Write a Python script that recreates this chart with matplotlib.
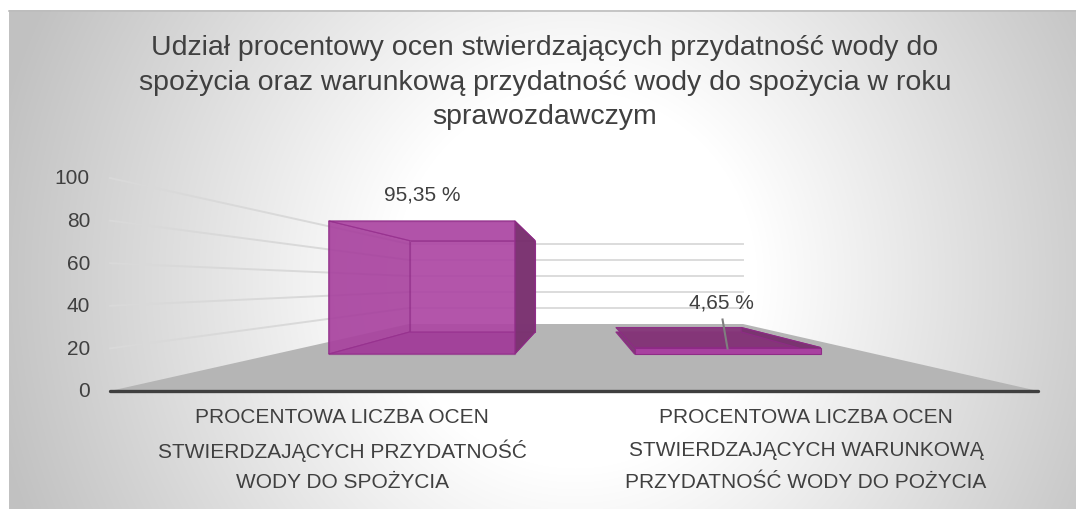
import numpy as np
import matplotlib
matplotlib.use("Agg")
import matplotlib.pyplot as plt
from matplotlib.patches import Polygon

# ---------------- data ----------------
title_lines = [
    "Udział procentowy ocen stwierdzających przydatność wody do",
    "spożycia oraz warunkową przydatność wody do spożycia w roku",
    "sprawozdawczym",
]
categories = [
    ["PROCENTOWA LICZBA OCEN", "STWIERDZAJĄCYCH PRZYDATNOŚĆ", "WODY DO SPOŻYCIA"],
    ["PROCENTOWA LICZBA OCEN", "STWIERDZAJĄCYCH WARUNKOWĄ", "PRZYDATNOŚĆ WODY DO POŻYCIA"],
]
values = [95.35, 4.65]
value_labels = ["95,35 %", "4,65 %"]
y_ticks = [0, 20, 40, 60, 80, 100]

# ---------------- layout (pixel space pseudo-3D projection) ----------------
W, H = 1076, 510
plt.rcParams['font.family'] = ['Liberation Sans', 'DejaVu Sans']
TXT = '#404040'

fig = plt.figure(figsize=(W / 100, H / 100), dpi=100)
fig.patch.set_facecolor('white')
ax = fig.add_axes([0, 0, 1, 1])
ax.set_xlim(0, W)
ax.set_ylim(H, 0)
ax.axis('off')

# chart area background (radial gradient)
cx0, cy0 = 9, 11
xx, yy = np.meshgrid(np.arange(cx0, W), np.arange(cy0, H))
d = np.sqrt(((xx - 575) / 520.0) ** 2 + ((yy - 280) / 540.0) ** 2)
g = 255 - 62 * np.clip((d - 0.35) / 0.8, 0, 1)
img = np.dstack([g, g, g]).astype(np.uint8)
ax.imshow(img, extent=(cx0, W, H, cy0), zorder=0, interpolation='bilinear', aspect='auto')
ax.plot([cx0, W], [cy0 + 0.5, cy0 + 0.5], color='#bdbdbd', lw=1.2, zorder=1)

# projection: f = horizontal fraction across plot, v = value, t = depth (0 front, 1 back)
FRONT = dict(left=110, right=1038, y0=392, scale=42.6 / 20)
BACK = dict(left=409, right=743, y0=325, scale=16.0 / 20)


def proj(f, v, t):
    left = FRONT['left'] + (BACK['left'] - FRONT['left']) * t
    right = FRONT['right'] + (BACK['right'] - FRONT['right']) * t
    y0 = FRONT['y0'] + (BACK['y0'] - FRONT['y0']) * t
    sc = FRONT['scale'] + (BACK['scale'] - FRONT['scale']) * t
    return (left + f * (right - left), y0 - v * sc)


# floor
floor = [proj(0, 0, 0), proj(0, 0, 1), proj(1, 0, 1), proj(1, 0, 0)]
ax.add_patch(Polygon(floor, closed=True, facecolor='#b5b5b5', edgecolor='none', zorder=2))

# gridlines (side wall + back wall)
for v in y_ticks[1:]:
    p0, p1, p2 = proj(0, v, 0), proj(0, v, 1), proj(1, v, 1)
    ax.plot([p0[0], p1[0]], [p0[1], p1[1]], color='#d9d9d9', lw=1.4, zorder=2)
    ax.plot([p1[0], p2[0]], [p1[1], p2[1]], color='#dcdcdc', lw=1.4, zorder=2)

# axis line
a0, a1 = proj(0, 0, 0), proj(1, 0, 0)
ax.plot([a0[0], a1[0]], [a0[1], a1[1]], color='#3f3f3f', lw=2.4, solid_capstyle='round', zorder=6)

# tick labels
for v in y_ticks:
    p = proj(0, v, 0)
    ax.text(90, p[1], str(v), ha='right', va='center', fontsize=15, color=TXT, zorder=7)

# bars
centers = [0.2445, 0.754]
half = 0.155
t_front, t_back = 0.552, 0.881
edge = '#8e2a86'


def quad(pts, fc, alpha, z, ec=edge, lw=0.8):
    ax.add_patch(Polygon(pts, closed=True, facecolor=fc, edgecolor=ec, lw=lw,
                         alpha=alpha, zorder=z, joinstyle='miter'))


for i, (c, v) in enumerate(zip(centers, values)):
    f0, f1 = c - half, c + half
    FLb, FRb = proj(f0, 0, t_front), proj(f1, 0, t_front)
    FLt, FRt = proj(f0, v, t_front), proj(f1, v, t_front)
    BLb, BRb = proj(f0, 0, t_back), proj(f1, 0, t_back)
    BLt, BRt = proj(f0, v, t_back), proj(f1, v, t_back)
    if v > 20:
        quad([BLb, BRb, BRt, BLt], '#b04ba7', 0.88, 3)          # back
        quad([FLb, BLb, BLt, FLt], '#a9459f', 0.88, 3)          # left (inner)
        quad([FLb, FRb, BRb, BLb], '#9e3b96', 0.92, 3)          # bottom
        quad([FLt, FRt, BRt, BLt], '#ad48a4', 0.88, 3)          # top (inner)
        quad([FRb, BRb, BRt, FRt], '#7a3470', 0.95, 4)          # right side
        quad([FLb, FRb, FRt, FLt], '#a8409f', 0.35, 5, lw=1.0)  # front
    else:
        quad([FLb, BLb, BRb, FRb], '#7f3274', 0.95, 3)
        quad([FLt, BLt, BRt, FRt], '#853679', 0.95, 4)          # top
        quad([FRb, BRb, BRt, FRt], '#7a3470', 0.95, 4)          # right side
        quad([FLb, FRb, FRt, FLt], '#ab42a3', 0.95, 5, lw=0.8)  # front strip

    top = proj(c, v, t_front)
    if i == 0:
        ax.text(top[0], top[1] - 27, value_labels[i], ha='center', va='center',
                fontsize=15, color=TXT, zorder=8)
    else:
        lx, ly = top[0] - 6, top[1] - 46
        ax.text(lx, ly, value_labels[i], ha='center', va='center',
                fontsize=15, color=TXT, zorder=8)
        ax.plot([lx + 1, top[0]], [ly + 18, top[1] + 1], color='#7f7f7f', lw=1.5, zorder=8)

# category labels
for c, lines in zip([0.25, 0.75], categories):
    x = proj(c, 0, 0)[0]
    for k, line in enumerate(lines):
        ax.text(x, 418 + 32.5 * k, line, ha='center', va='center', fontsize=15, color=TXT, zorder=7)

# title
for k, line in enumerate(title_lines):
    ax.text(545, 48 + 34.5 * k, line, ha='center', va='center', fontsize=20.5, color=TXT, zorder=7)

fig.savefig('out.png', dpi=100)
